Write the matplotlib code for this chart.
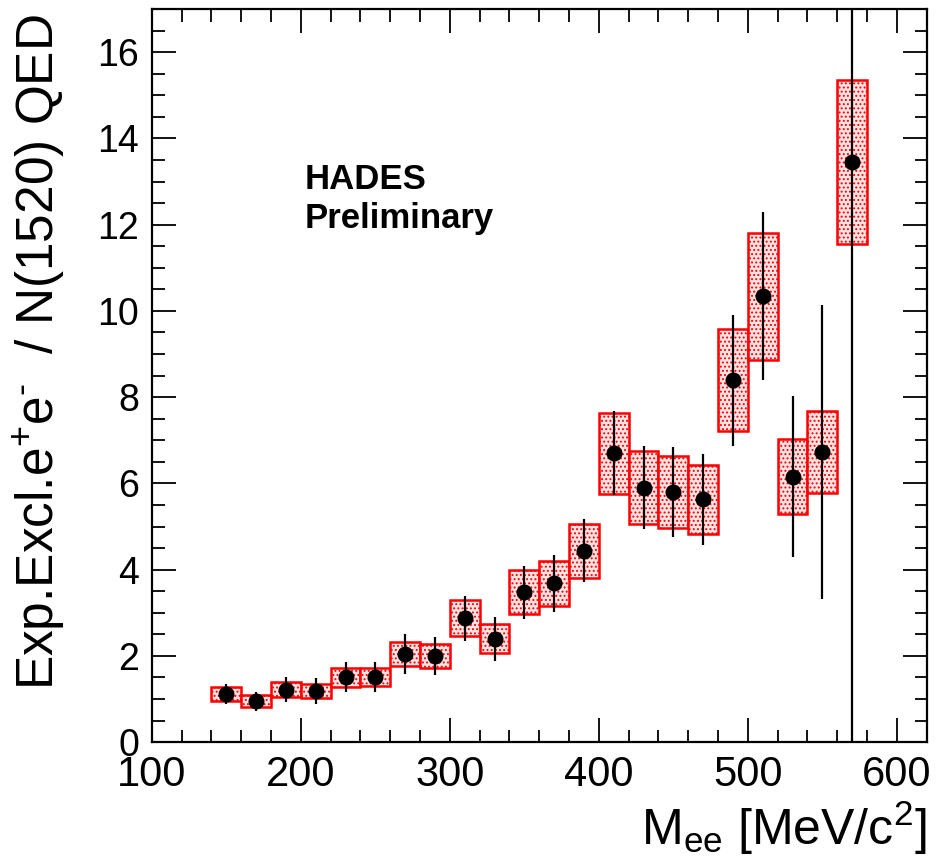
import matplotlib
matplotlib.use("Agg")
import matplotlib.pyplot as plt
from matplotlib.patches import Rectangle
from matplotlib.ticker import MultipleLocator

# Exclusive e+e- yield ratio to N(1520) QED model, in 20 MeV/c^2 mass bins
mass = [150, 170, 190, 210, 230, 250, 270, 290, 310, 330, 350,
        370, 390, 410, 430, 450, 470, 490, 510, 530, 550, 570]
ratio = [1.12, 0.95, 1.22, 1.19, 1.51, 1.51, 2.04, 2.00, 2.87, 2.40, 3.48,
         3.68, 4.44, 6.70, 5.90, 5.80, 5.63, 8.39, 10.34, 6.16, 6.73, 13.45]
stat_err = [0.23, 0.22, 0.30, 0.30, 0.355, 0.355, 0.465, 0.45, 0.53, 0.51, 0.615,
            0.655, 0.73, 0.97, 0.96, 1.045, 1.06, 1.52, 1.95, 1.875, 3.4, 14.0]
sys_err = [0.165, 0.135, 0.165, 0.17, 0.22, 0.21, 0.285, 0.275, 0.415, 0.34, 0.505,
           0.515, 0.63, 0.94, 0.845, 0.83, 0.805, 1.185, 1.47, 0.87, 0.95, 1.9]
bin_width = 20

plt.rcParams['font.family'] = ['Liberation Sans', 'DejaVu Sans']
plt.rcParams['mathtext.default'] = 'regular'
plt.rcParams['hatch.linewidth'] = 0.9

fig = plt.figure(figsize=(9.37, 8.66), dpi=100)
ax = fig.add_axes([0.162, 0.143, 0.827, 0.8466])

# systematic uncertainty boxes
for m, r, s in zip(mass, ratio, sys_err):
    ax.add_patch(Rectangle((m - bin_width / 2, r - s), bin_width, 2 * s,
                           facecolor='#fde3e3', edgecolor='#ff0000',
                           hatch='....', linewidth=1.8, zorder=2))

# statistical error bars and data points
ax.errorbar(mass, ratio, yerr=stat_err, fmt='o', color='black',
            markersize=10.5, elinewidth=1.6, capsize=0, zorder=3)

ax.set_xlim(100, 620)
ax.set_ylim(0, 17)

ax.xaxis.set_major_locator(MultipleLocator(100))
ax.xaxis.set_minor_locator(MultipleLocator(20))
ax.yaxis.set_major_locator(MultipleLocator(2))
ax.yaxis.set_minor_locator(MultipleLocator(0.5))

ax.tick_params(which='both', direction='in', top=True, right=True, width=1.3)
ax.tick_params(which='major', length=17)
ax.tick_params(which='minor', length=9)
ax.tick_params(axis='x', which='major', labelsize=30, pad=9)
ax.tick_params(axis='y', which='major', labelsize=27, pad=9)
for sp in ax.spines.values():
    sp.set_linewidth(1.6)

ax.set_xlabel(r'M$_{ee}$ [MeV/c$^{2}$]', fontsize=36, loc='right')
ax.xaxis.set_label_coords(1.0, -0.078)
ax.set_ylabel('Exp.Excl.e$^{+}$e$^{\u2010}$  / N(1520) QED', fontsize=37, loc='top')
ax.yaxis.set_label_coords(-0.11, 0.993)

ax.text(0.197, 0.754, 'HADES', transform=ax.transAxes, fontsize=25,
        fontweight='bold', ha='left', va='baseline')
ax.text(0.197, 0.701, 'Preliminary', transform=ax.transAxes, fontsize=25,
        fontweight='bold', ha='left', va='baseline')

fig.savefig('out.png', dpi=100)
